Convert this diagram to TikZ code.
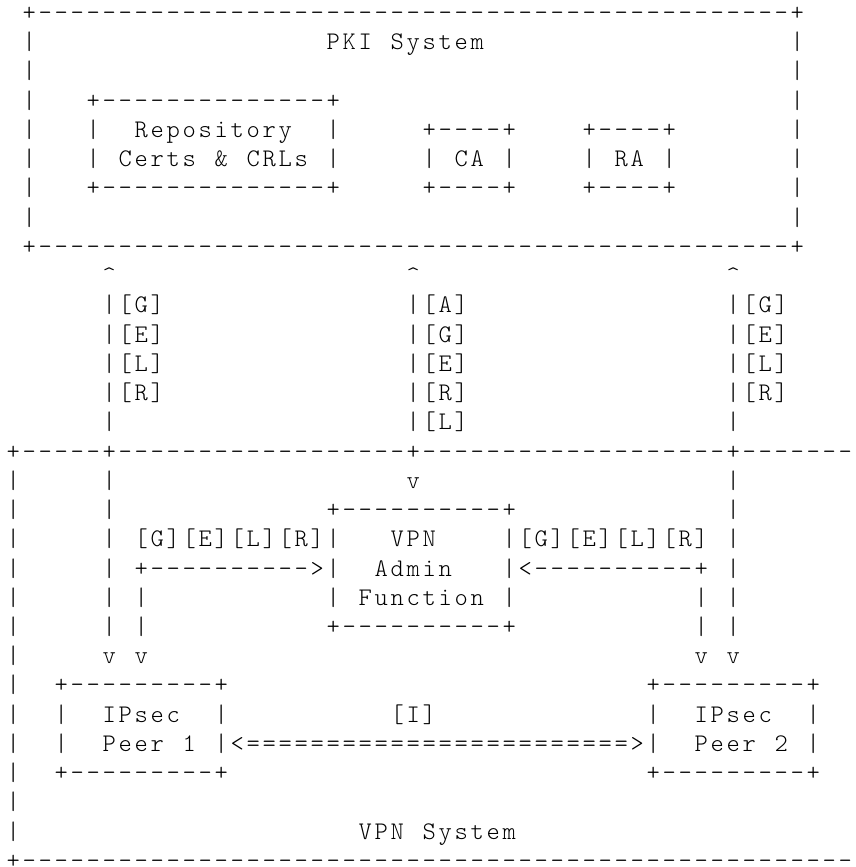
\documentclass[tikz,border=0pt]{standalone}
\usepackage{fontspec}
\newfontfamily\asciifont{lmmonolt10-regular.otf}
\ExplSyntaxOn
\NewDocumentCommand{\grid}{m}{\tl_map_inline:nn{#1}{\makebox[12pt]{##1}}}
\ExplSyntaxOff
\newcommand{\rep}[2]{\foreach \k in {1,...,#1}{\makebox[12pt]{#2}}}
\tikzset{
  txt/.style={font=\asciifont\fontsize{19pt}{22pt}\selectfont,
    anchor=base west, inner sep=0pt, outer sep=0pt}
}
\begin{document}
\begin{tikzpicture}[x=12pt, y=-21.9375pt]
  \useasboundingbox (-0.831,-0.455) rectangle (52.67,29.19);
  \begin{scope}[shift={(-0.5,0.24)}]
    % PKI system
    \node[txt] (pkitop) at (1,0) {\grid{+}\rep{47}{-}\grid{+}};
    \foreach \r in {1,...,7} {
      \node[txt] (pkiw\r) at (1,\r) {\grid{|}};
      \node[txt] (pkie\r) at (49,\r) {\grid{|}};
    }
    \node[txt] (pkibot) at (1,8) {\grid{+}\rep{47}{-}\grid{+}};
    \node[txt] (pkiname) at (20,1) {\grid{PKI~System}};
    \node[txt] (repotop) at (5,3) {\grid{+}\rep{14}{-}\grid{+}};
    \node[txt] (repo) at (5,4) {\grid{|~~Repository~~|}};
    \node[txt] (certs) at (5,5) {\grid{|~Certs~\&~CRLs~|}};
    \node[txt] (repobot) at (5,6) {\grid{+}\rep{14}{-}\grid{+}};
    \node[txt] (catop) at (26,4) {\grid{+----+}};
    \node[txt] (ca) at (26,5) {\grid{|~CA~|}};
    \node[txt] (cabot) at (26,6) {\grid{+----+}};
    \node[txt] (ratop) at (36,4) {\grid{+----+}};
    \node[txt] (ra) at (36,5) {\grid{|~RA~|}};
    \node[txt] (rabot) at (36,6) {\grid{+----+}};
    % links up to the PKI
    \foreach \c/\lbls in {6/{G,E,L,R}, 25/{A,G,E,R,L}, 45/{G,E,L,R}} {
      \node[txt] (up\c) at (\c,9) {\grid{\textasciicircum}};
      \foreach \r in {10,...,14}
        \node[txt] (bar\c-\r) at (\c,\r) {\grid{|}};
      \foreach \l [count=\i from 10] in \lbls
        \node[txt] (lbl\c-\i) at (\c+1,\i) {\grid{[\l]}};
    }
    % VPN system
    \node[txt] (vpntop) at (0,15) {\grid{+}\rep{5}{-}\grid{+}\rep{18}{-}\grid{+}\rep{19}{-}\grid{+}\rep{7}{-}};
    \foreach \r in {16,...,28}
      \node[txt] (vpnw\r) at (0,\r) {\grid{|}};
    \node[txt] (vpnbot) at (0,29) {\grid{+}\rep{52}{-}};
    \node[txt] (vpnname) at (22,28) {\grid{VPN~System}};
    \foreach \c in {6,45} {
      \foreach \r in {16,...,21}
        \node[txt] (down\c-\r) at (\c,\r) {\grid{|}};
      \node[txt] (tip\c) at (\c,22) {\grid{v}};
    }
    \node[txt] (tip25) at (25,16) {\grid{v}};
    % admin function
    \node[txt] (admtop) at (20,17) {\grid{+}\rep{10}{-}\grid{+}};
    \node[txt] (adm1) at (20,18) {\grid{|~~~VPN~~~~|}};
    \node[txt] (adm2) at (20,19) {\grid{|~~Admin~~~|}};
    \node[txt] (adm3) at (20,20) {\grid{|~Function~|}};
    \node[txt] (admbot) at (20,21) {\grid{+}\rep{10}{-}\grid{+}};
    \node[txt] (gelrw) at (8,18) {\grid{[G][E][L][R]}};
    \node[txt] (arrw) at (8,19) {\grid{+}\rep{10}{-}\grid{>}};
    \node[txt] (gelre) at (32,18) {\grid{[G][E][L][R]}};
    \node[txt] (arre) at (32,19) {\grid{<}\rep{10}{-}\grid{+}};
    \foreach \c in {8,43} {
      \foreach \r in {20,21}
        \node[txt] (side\c-\r) at (\c,\r) {\grid{|}};
      \node[txt] (tip\c) at (\c,22) {\grid{v}};
    }
    % IPsec peers
    \foreach \name/\c/\idx in {peera/3/1, peerb/40/2} {
      \node[txt] (\name top) at (\c,23) {\grid{+}\rep{9}{-}\grid{+}};
      \node[txt] (\name ip) at (\c,24) {\grid{|~~IPsec~~|}};
      \node[txt] (\name) at (\c,25) {\grid{|~~Peer~\idx~|}};
      \node[txt] (\name bot) at (\c,26) {\grid{+}\rep{9}{-}\grid{+}};
    }
    \node[txt] (ike) at (24,24) {\grid{[I]}};
    \node[txt] (ikearr) at (14,25) {\grid{<}\rep{24}{=}\grid{>}};
  \end{scope}
\end{tikzpicture}
\end{document}
